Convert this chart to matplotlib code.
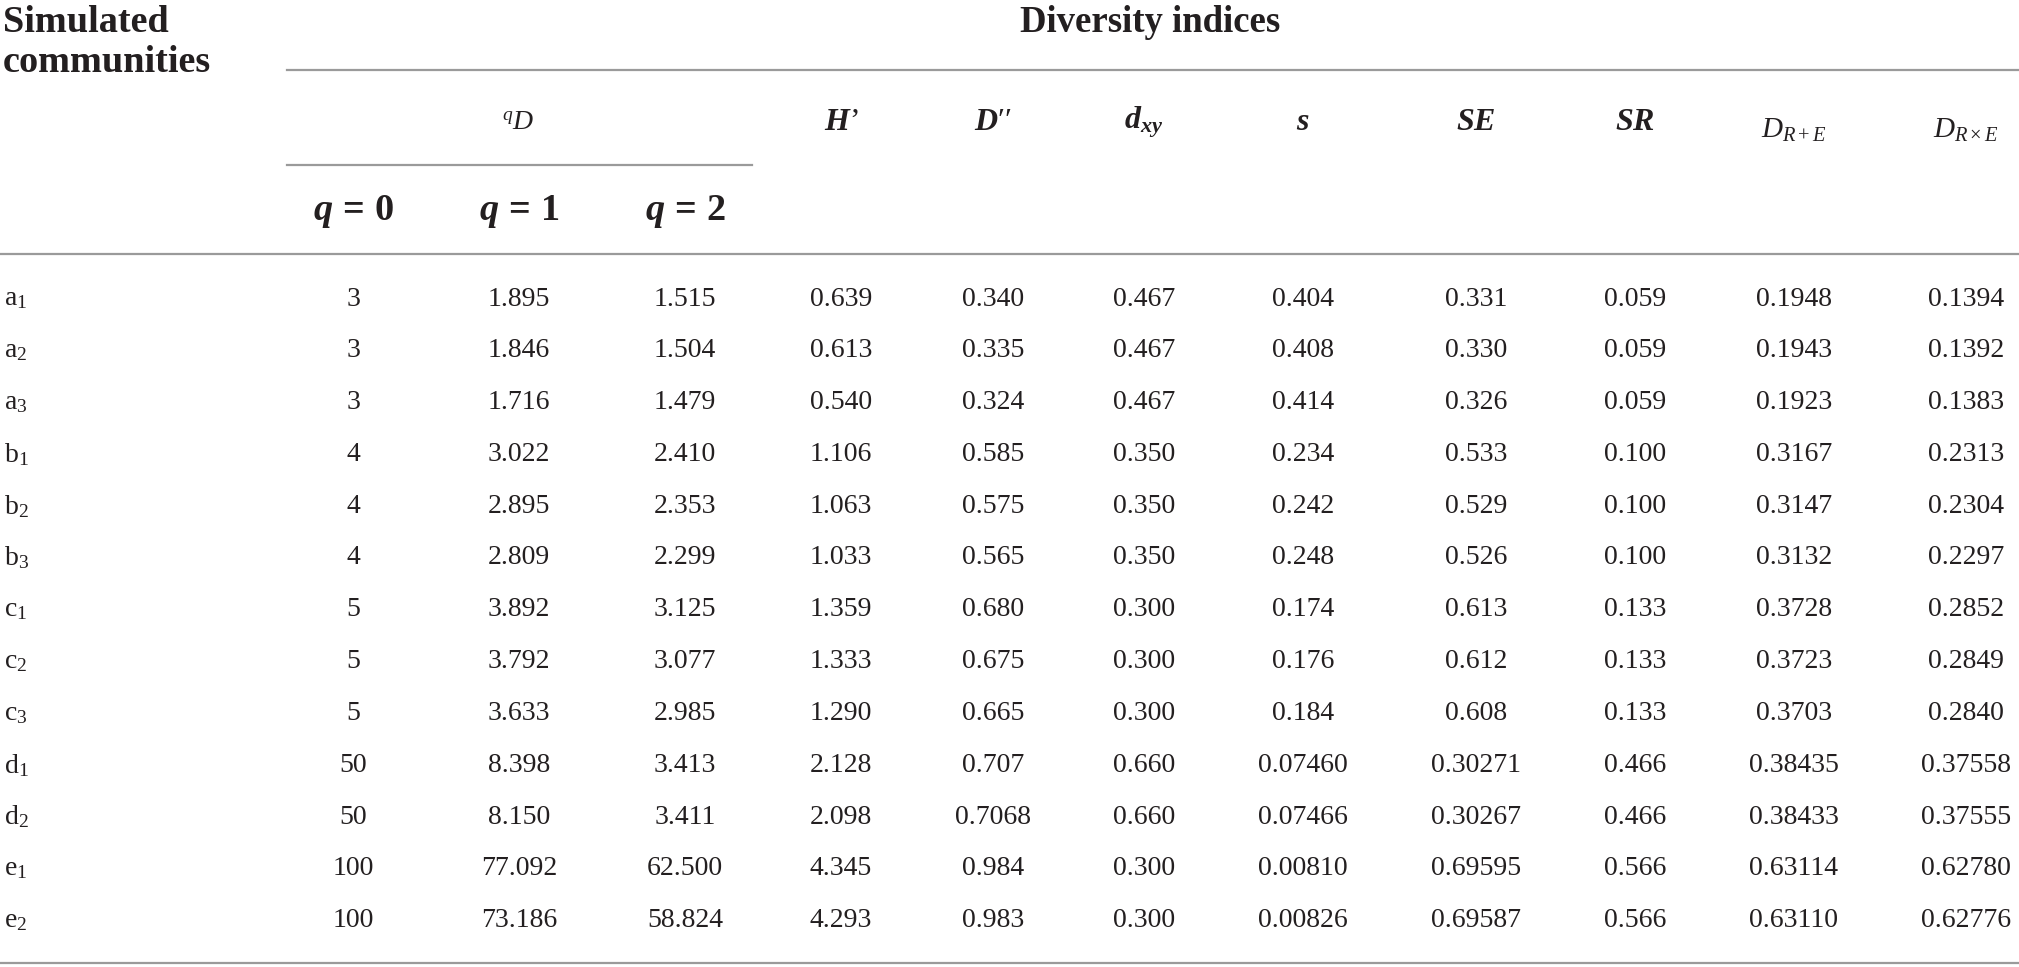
import matplotlib
matplotlib.use("Agg")
import matplotlib.pyplot as plt

plt.rcParams['font.family'] = ['Liberation Serif', 'DejaVu Serif']
plt.rcParams['mathtext.fontset'] = 'custom'
plt.rcParams['mathtext.rm'] = 'Liberation Serif'
plt.rcParams['mathtext.it'] = 'Liberation Serif:italic'
plt.rcParams['mathtext.bf'] = 'Liberation Serif:bold'
plt.rcParams['mathtext.bfit'] = 'Liberation Serif:italic:bold'

# ---- data ----
row_letters = ['a', 'a', 'a', 'b', 'b', 'b', 'c', 'c', 'c', 'd', 'd', 'e', 'e']
row_subs = ['1', '2', '3', '1', '2', '3', '1', '2', '3', '1', '2', '1', '2']
q0 = ['3', '3', '3', '4', '4', '4', '5', '5', '5', '50', '50', '100', '100']
q1 = ['1.895', '1.846', '1.716', '3.022', '2.895', '2.809', '3.892', '3.792', '3.633', '8.398', '8.150', '77.092', '73.186']
q2 = ['1.515', '1.504', '1.479', '2.410', '2.353', '2.299', '3.125', '3.077', '2.985', '3.413', '3.411', '62.500', '58.824']
H_prime = ['0.639', '0.613', '0.540', '1.106', '1.063', '1.033', '1.359', '1.333', '1.290', '2.128', '2.098', '4.345', '4.293']
D_dprime = ['0.340', '0.335', '0.324', '0.585', '0.575', '0.565', '0.680', '0.675', '0.665', '0.707', '0.7068', '0.984', '0.983']
d_xy = ['0.467', '0.467', '0.467', '0.350', '0.350', '0.350', '0.300', '0.300', '0.300', '0.660', '0.660', '0.300', '0.300']
s_vals = ['0.404', '0.408', '0.414', '0.234', '0.242', '0.248', '0.174', '0.176', '0.184', '0.07460', '0.07466', '0.00810', '0.00826']
SE = ['0.331', '0.330', '0.326', '0.533', '0.529', '0.526', '0.613', '0.612', '0.608', '0.30271', '0.30267', '0.69595', '0.69587']
SR = ['0.059', '0.059', '0.059', '0.100', '0.100', '0.100', '0.133', '0.133', '0.133', '0.466', '0.466', '0.566', '0.566']
D_RplusE = ['0.1948', '0.1943', '0.1923', '0.3167', '0.3147', '0.3132', '0.3728', '0.3723', '0.3703', '0.38435', '0.38433', '0.63114', '0.63110']
D_RtimesE = ['0.1394', '0.1392', '0.1383', '0.2313', '0.2304', '0.2297', '0.2852', '0.2849', '0.2840', '0.37558', '0.37555', '0.62780', '0.62776']

columns = [q0, q1, q2, H_prime, D_dprime, d_xy, s_vals, SE, SR, D_RplusE, D_RtimesE]
q_headers = [r'$\mathbfit{q}\mathbf{\,=\,0}$', r'$\mathbfit{q}\mathbf{\,=\,1}$', r'$\mathbfit{q}\mathbf{\,=\,2}$']
index_headers = [r'$\mathbfit{H}$' + '’', r'$\mathbfit{D}$' + '′′', r'$\mathbfit{d}_{\mathbfit{xy}}$',
                 r'$\mathbfit{s}$', r'$\mathbfit{SE}$', r'$\mathbfit{SR}$']
small_headers = [r'$D_{R+E}$', r'$D_{R\times E}$']

# ---- layout ----
W, H = 2019, 967
col_x = [353, 519, 685, 841, 993, 1144, 1303, 1476, 1635, 1794, 1966]
row_y0, row_dy = 299, 51.8
txt = '#231f20'
line_c = '#9a9a9a'

fig = plt.figure(figsize=(W / 100, H / 100), dpi=100)
ax = fig.add_axes([0, 0, 1, 1])
ax.set_xlim(0, W)
ax.set_ylim(H, 0)
ax.axis('off')

# header
ax.text(3, 22, 'Simulated', fontsize=27.5, fontweight='bold', color=txt, ha='left', va='center')
ax.text(3, 62, 'communities', fontsize=27.5, fontweight='bold', color=txt, ha='left', va='center')
ax.text(1150, 22, 'Diversity indices', fontsize=26.5, fontweight='bold', color=txt, ha='center', va='center')
ax.plot([287, W], [70, 70], color=line_c, lw=1.6)
ax.text(518, 124, r'$^{q}D$', fontsize=20, color=txt, ha='center', va='center')
ax.plot([287, 752], [164.5, 164.5], color=line_c, lw=1.6)
for x, lab in zip(col_x[:3], q_headers):
    ax.text(x, 212, lab, fontsize=27.5, color=txt, ha='center', va='center')
for x, lab in zip(col_x[3:9], index_headers):
    ax.text(x, 122, lab, fontsize=23, color=txt, ha='center', va='center')
for x, lab in zip(col_x[9:], small_headers):
    ax.text(x, 130, lab, fontsize=21, color=txt, ha='center', va='center')
ax.plot([0, W], [253.5, 253.5], color=line_c, lw=1.6)

# body
for i, (let, sub) in enumerate(zip(row_letters, row_subs)):
    y = row_y0 + i * row_dy
    ax.text(4, y, let + r'$_{' + sub + '}$', fontsize=20, color=txt, ha='left', va='center')
    for x, col in zip(col_x, columns):
        ax.text(x, y, col[i], fontsize=20, color=txt, ha='center', va='center')

ax.plot([0, W], [963, 963], color=line_c, lw=1.6)

fig.savefig('out.png', dpi=100, facecolor='white')
